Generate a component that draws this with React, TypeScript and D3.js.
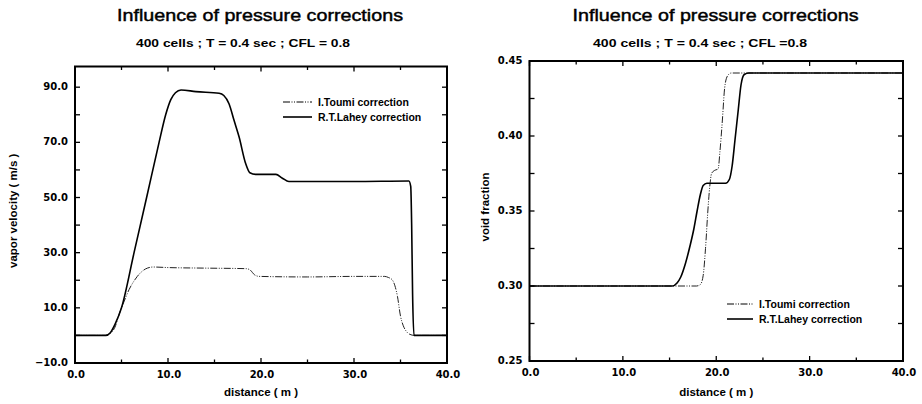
import * as d3 from "d3";

// axis ticks
const distTicks = [0, 10, 20, 30, 40];
const distMinor = [5, 15, 25, 35];
const velTicks = [-10, 10, 30, 50, 70, 90];
const velMinor = [0, 20, 40, 60, 80];
const voidTicks = [0.25, 0.3, 0.35, 0.4, 0.45];
const voidMinor = [0.275, 0.325, 0.375, 0.425];

const seriesNames = ["I.Toumi correction", "R.T.Lahey correction"];

// vapor velocity (m/s) against distance (m)
const toumiVelocity: [number, number][] = [
  [0, 0], [3.3, 0], [3.8, 0.8], [4.3, 3], [4.73, 7.5], [5.3, 12.5], [5.81, 16.6],
  [6.3, 19.5], [6.7, 21.4], [7.2, 23.2], [7.78, 24.4], [8.4, 24.8], [10, 24.6],
  [14, 24.4], [18.4, 24.2], [18.8, 23.8], [19.3, 22], [19.8, 21.4], [25, 21.2],
  [30, 21.4], [33.3, 21.4], [33.7, 21], [34.1, 20.2], [34.4, 18], [34.67, 14.2],
  [35, 7], [35.3, 3.5], [35.6, 1.6], [36, 0.4], [36.5, 0], [40, 0],
];
const laheyVelocity: [number, number][] = [
  [0, 0], [3.3, 0], [3.8, 1], [4.3, 4], [5, 10], [6.35, 30], [7.7, 50], [9.04, 70],
  [9.75, 80], [10.3, 85.5], [10.8, 88], [11.4, 89], [13, 88.4], [15.5, 87.8],
  [16, 87], [16.56, 84], [17.1, 78], [17.64, 72], [18.35, 62.3], [18.8, 59],
  [19.43, 58.4], [21.6, 58.4], [22.3, 57], [23, 55.8], [30, 55.8], [35.9, 56],
  [36.1, 54], [36.2, 40], [36.3, 15], [36.45, 0], [40, 0],
];

// void fraction against distance (m)
const toumiVoid: [number, number][] = [
  [0, 0.3], [17.9, 0.3], [18.3, 0.301], [18.6, 0.307], [18.85, 0.325], [19.1, 0.35],
  [19.3, 0.366], [19.5, 0.375], [19.8, 0.377], [20.2, 0.378], [20.4, 0.39],
  [20.65, 0.41], [20.9, 0.432], [21.2, 0.44], [21.6, 0.442], [40, 0.442],
];
const laheyVoid: [number, number][] = [
  [0, 0.3], [15.3, 0.3], [15.8, 0.302], [16.2, 0.306], [16.7, 0.315], [17.2, 0.327],
  [17.6, 0.338], [17.95, 0.35], [18.3, 0.361], [18.6, 0.367], [19.0, 0.3685],
  [21.0, 0.3685], [21.4, 0.371], [21.7, 0.38], [22.0, 0.397], [22.35, 0.417],
  [22.65, 0.434], [23.0, 0.441], [23.5, 0.442], [40, 0.442],
];

const TICK_FONT = "'DejaVu Sans', sans-serif";
const TEXT_FONT = "'Liberation Sans', Arial, sans-serif";
const toumiDash = "7 1.5 1 1.5 1 1.5";

type PanelProps = {
  x0: number; x1: number; yTop: number; yBot: number;
  yDomain: [number, number];
  yTicks: number[]; yMinor: number[]; yFmt: (v: number) => string;
  yLabel: string; yLabelX: number;
  subtitle: string; subtitleX: number; titleX: number;
  toumi: [number, number][]; lahey: [number, number][];
  legendX: number; legendY: number; legendLen: number;
};

function Panel(p: PanelProps) {
  const x = d3.scaleLinear().domain([0, 40]).range([p.x0, p.x1]);
  const y = d3.scaleLinear().domain(p.yDomain).range([p.yBot, p.yTop]);
  const line = d3
    .line<[number, number]>()
    .x((d) => x(d[0]))
    .y((d) => y(d[1]))
    .curve(d3.curveMonotoneX);
  const fx = d3.format(".1f");
  const major = 5;
  const minor = 3.5;
  return (
    <g>
      <text x={p.titleX} y={21} textAnchor="middle" fontFamily={TEXT_FONT} fontSize={17}
        stroke="#000" strokeWidth={0.45}
        textLength={286} lengthAdjust="spacingAndGlyphs">Influence of pressure corrections</text>
      <text x={p.subtitleX} y={47} textAnchor="middle" fontFamily={TEXT_FONT} fontSize={10.5}
        fontWeight="bold" textLength={214} lengthAdjust="spacingAndGlyphs">{p.subtitle}</text>

      {/* curves */}
      <path d={line(p.toumi) ?? ""} fill="none" stroke="#222" strokeWidth={1} strokeDasharray={toumiDash} />
      <path d={line(p.lahey) ?? ""} fill="none" stroke="#000" strokeWidth={1.6} />

      {/* frame */}
      <rect x={p.x0} y={p.yTop} width={p.x1 - p.x0} height={p.yBot - p.yTop}
        fill="none" stroke="#000" strokeWidth={2} />

      {/* x ticks (bottom + top, inward) */}
      {distTicks.concat(distMinor).map((t) => {
        const len = distTicks.includes(t) ? major : minor;
        return (
          <g key={"xt" + t}>
            <line x1={x(t)} x2={x(t)} y1={p.yBot} y2={p.yBot - len} stroke="#000" strokeWidth={1.3} />
            <line x1={x(t)} x2={x(t)} y1={p.yTop} y2={p.yTop + len} stroke="#000" strokeWidth={1.3} />
          </g>
        );
      })}
      {distTicks.map((t) => (
        <text key={"xl" + t} x={x(t) + 1} y={p.yBot + 15} textAnchor="middle"
          fontFamily={TICK_FONT} fontWeight="bold" fontSize={10}>{fx(t)}</text>
      ))}

      {/* y ticks (left + right, inward) */}
      {p.yTicks.concat(p.yMinor).map((t) => (
        <g key={"yt" + t}>
          <line x1={p.x0} x2={p.x0 + major} y1={y(t)} y2={y(t)} stroke="#000" strokeWidth={1.3} />
          <line x1={p.x1} x2={p.x1 - major} y1={y(t)} y2={y(t)} stroke="#000" strokeWidth={1.3} />
        </g>
      ))}
      {p.yTicks.map((t) => (
        <text key={"yl" + t} x={p.x0 - 7} y={y(t)} dy="0.3em" textAnchor="end"
          fontFamily={TICK_FONT} fontWeight="bold" fontSize={10}>{p.yFmt(t)}</text>
      ))}

      {/* axis titles */}
      <text x={(p.x0 + p.x1) / 2} y={396} textAnchor="middle" fontFamily={TEXT_FONT}
        fontWeight="bold" fontSize={11.5}>distance ( m )</text>
      <text transform={`translate(${p.yLabelX},${(p.yTop + p.yBot) / 2 - 4}) rotate(-90)`}
        textAnchor="middle" fontFamily={TEXT_FONT} fontWeight="bold" fontSize={11.5}>{p.yLabel}</text>

      {/* legend */}
      {seriesNames.map((name, i) => {
        const ly = p.legendY + i * 15;
        return (
          <g key={name}>
            <line x1={p.legendX} x2={p.legendX + p.legendLen} y1={ly} y2={ly} stroke="#000"
              strokeWidth={i === 0 ? 1 : 1.6} strokeDasharray={i === 0 ? toumiDash : undefined} />
            <text x={p.legendX + p.legendLen + 6} y={ly} dy="0.35em" fontFamily={TEXT_FONT}
              fontWeight="bold" fontSize={10.5}>{name}</text>
          </g>
        );
      })}
    </g>
  );
}

export default function App() {
  return (
    <svg width={922} height={404} viewBox="0 0 922 404"
      style={{ position: "absolute", left: 0, top: 0, background: "#fff" }}>
      <Panel x0={75} x1={447} yTop={66.5} yBot={363} yDomain={[-10, 97.5]}
        yTicks={velTicks} yMinor={velMinor} yFmt={d3.format(".1f")}
        yLabel="vapor velocity ( m/s )" yLabelX={16.5}
        subtitle="400 cells ; T = 0.4 sec ; CFL = 0.8" subtitleX={243} titleX={260}
        toumi={toumiVelocity} lahey={laheyVelocity}
        legendX={283} legendY={102} legendLen={29} />
      <Panel x0={529.5} x1={903} yTop={61} yBot={361} yDomain={[0.25, 0.45]}
        yTicks={voidTicks} yMinor={voidMinor} yFmt={d3.format(".2f")}
        yLabel="void fraction" yLabelX={489}
        subtitle="400 cells ; T = 0.4 sec ; CFL =0.8" subtitleX={700} titleX={715.5}
        toumi={toumiVoid} lahey={laheyVoid}
        legendX={727} legendY={304} legendLen={26} />
    </svg>
  );
}
